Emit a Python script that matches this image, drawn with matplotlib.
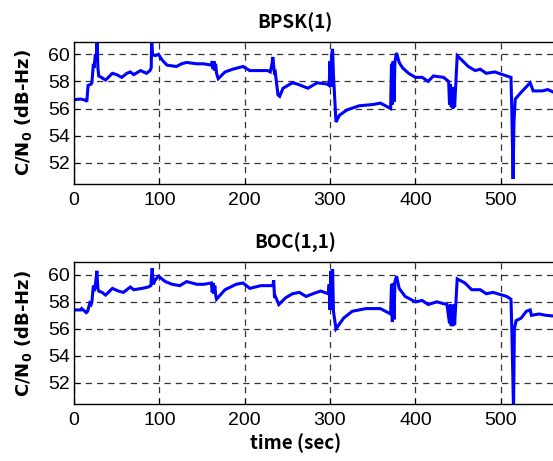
import matplotlib
matplotlib.use("Agg")
import matplotlib.pyplot as plt

# ---- data ----
bpsk_t = [0, 8, 14, 15, 16.5, 20, 21, 22.7, 23.5, 25, 26, 27, 28, 29, 32, 37, 45, 50, 56, 62, 66, 70,
          78, 85, 89, 90.5, 91, 92, 95, 99, 103, 109, 120, 126, 132, 144, 152, 161, 162, 163, 164,
          165, 166, 167, 169, 177, 186, 198, 206, 215, 227, 230, 232, 233, 235, 236, 239, 241, 245,
          256, 262, 274, 285, 297, 299, 300, 301, 302, 303, 304, 307, 311, 320, 334, 351, 359, 371,
          372, 373, 374, 375, 376, 377, 378, 381, 385, 392, 400, 408, 415, 421, 433, 439, 440, 441,
          442, 443, 444, 445, 446, 449, 454, 462, 470, 476, 483, 493, 507, 512, 513, 514.5, 515.5,
          517, 524, 530, 534.5, 538, 549, 555, 562]
bpsk_v = [56.65, 56.7, 56.6, 56.5, 57.7, 57.8, 57.9, 59.3, 59.0, 60.0, 59.6, 61.2, 59.0, 58.4, 58.3, 58.1,
          58.6, 58.5, 58.3, 58.6, 58.7, 58.5, 58.8, 58.6, 58.8, 59.0, 61.2, 60.0, 59.9, 60.0, 59.6,
          59.2, 59.1, 59.3, 59.4, 59.3, 59.3, 59.2, 59.5, 58.9, 59.5, 58.8, 59.3, 58.6, 58.2, 58.7,
          58.9, 59.1, 58.8, 58.8, 58.8, 58.7, 59.3, 59.8, 58.5, 58.6, 57.0, 56.9, 57.5, 57.9, 57.8,
          57.5, 57.9, 57.8, 57.7, 59.5, 57.6, 60.0, 60.4, 58.5, 55.0, 55.5, 55.9, 56.2, 56.3, 56.4,
          56.0, 59.3, 56.3, 59.5, 56.5, 59.4, 59.8, 60.1, 59.4, 59.0, 58.6, 58.3, 58.3, 58.0, 58.4,
          58.3, 58.0, 56.3, 57.8, 56.1, 57.6, 56.0, 57.4, 56.1, 59.9, 59.6, 59.1, 58.8, 58.9, 58.6,
          58.7, 58.4, 58.3, 55.8, 50.8, 55.0, 56.7, 57.2, 57.6, 57.9, 57.3, 57.3, 57.4, 57.2]

boc_t = [0, 8, 9, 14.4, 16, 18.5, 20, 21, 22.7, 24, 25.5, 26.8, 28, 29, 33, 37, 45, 52, 58, 66, 70, 80,
         87, 90, 91.6, 93, 95, 99, 107, 115, 124, 132, 144, 152, 161, 162, 163, 164, 165, 166,
         167, 177, 190, 198, 206, 219, 233, 234, 235, 236, 240, 248, 256, 264, 272, 280, 289, 298,
         299, 300, 301, 302, 303, 304, 307, 316, 326, 342, 359, 371, 372, 373, 374, 375, 376, 377,
         378, 381, 388, 400, 408, 415, 425, 437, 440, 441, 442, 443, 444, 445, 446, 449, 458, 466,
         476, 483, 491, 507, 512, 513, 515, 516, 518, 524, 530, 534.5, 536, 545, 553, 562]
boc_v = [57.4, 57.4, 57.5, 57.2, 57.3, 57.9, 57.8, 58.0, 59.2, 58.8, 59.5, 60.3, 59.0, 58.8, 58.7, 58.5,
         59.0, 58.8, 58.7, 59.1, 58.9, 59.0, 59.1, 59.2, 60.5, 59.3, 59.6, 59.9, 59.5, 59.3, 59.2,
         59.5, 59.3, 59.3, 59.4, 58.7, 59.4, 58.6, 59.2, 58.5, 58.2, 58.9, 59.3, 59.4, 59.0, 59.2,
         59.2, 59.6, 58.3, 58.4, 57.8, 58.3, 58.6, 58.7, 58.4, 58.6, 58.8, 58.6, 59.3, 57.4, 60.3,
         57.6, 60.4, 57.3, 56.0, 56.8, 57.3, 57.5, 57.5, 57.1, 59.3, 56.5, 59.4, 56.7, 59.5, 59.7,
         59.9, 59.0, 58.4, 58.0, 58.1, 57.8, 58.0, 57.8, 56.4, 57.8, 56.2, 57.6, 56.2, 57.8, 56.3,
         59.7, 59.4, 58.9, 58.9, 58.6, 58.7, 58.4, 58.2, 56.0, 50.0, 56.0, 56.6, 56.8, 57.3, 57.4,
         57.0, 57.1, 57.0, 56.95]

titles = ["BPSK(1)", "BOC(1,1)"]
xticks = [0, 100, 200, 300, 400, 500]
yticks = [52, 54, 56, 58, 60]

fig = plt.figure(figsize=(5.53, 4.61), dpi=100)
label_font = ["Noto Sans CJK JP", "DejaVu Sans"]
tick_font = "Liberation Sans"

positions = [[0.1338, 0.6015, 0.926, 0.308], [0.1338, 0.1243, 0.926, 0.3067]]
series = [(bpsk_t, bpsk_v), (boc_t, boc_v)]

for i, (pos, (t, v)) in enumerate(zip(positions, series)):
    ax = fig.add_axes(pos)
    ax.plot(t, v, color="#0000ff", lw=2.2, solid_joinstyle="miter")
    ax.set_xlim(0, 600)
    ax.set_ylim(50.45, 60.93)
    ax.set_xticks(xticks)
    ax.set_yticks(yticks)
    ax.grid(True, linestyle=(0, (5, 4)), color="#333333", lw=0.9)
    ax.tick_params(direction="in", length=4, width=0.8, labelsize=14)
    ax.tick_params(axis="x", pad=6)
    ax.tick_params(axis="y", pad=3)
    for lab in ax.get_xticklabels() + ax.get_yticklabels():
        lab.set_fontfamily(tick_font)
    for s in ax.spines.values():
        s.set_linewidth(1.0)
    ax.set_title(titles[i], fontsize=13.5, fontweight="bold", family=label_font, pad=10, x=0.432)
    ax.set_ylabel("C/N$_\\mathbf{0}$ (dB-Hz)", fontsize=13, fontweight="bold", family="DejaVu Sans",
                  labelpad=10)
    if i == 1:
        ax.set_xlabel("time (sec)", fontsize=13.5, fontweight="bold", family=label_font, labelpad=3,
                      x=0.432)

fig.savefig("out.png", dpi=100)
